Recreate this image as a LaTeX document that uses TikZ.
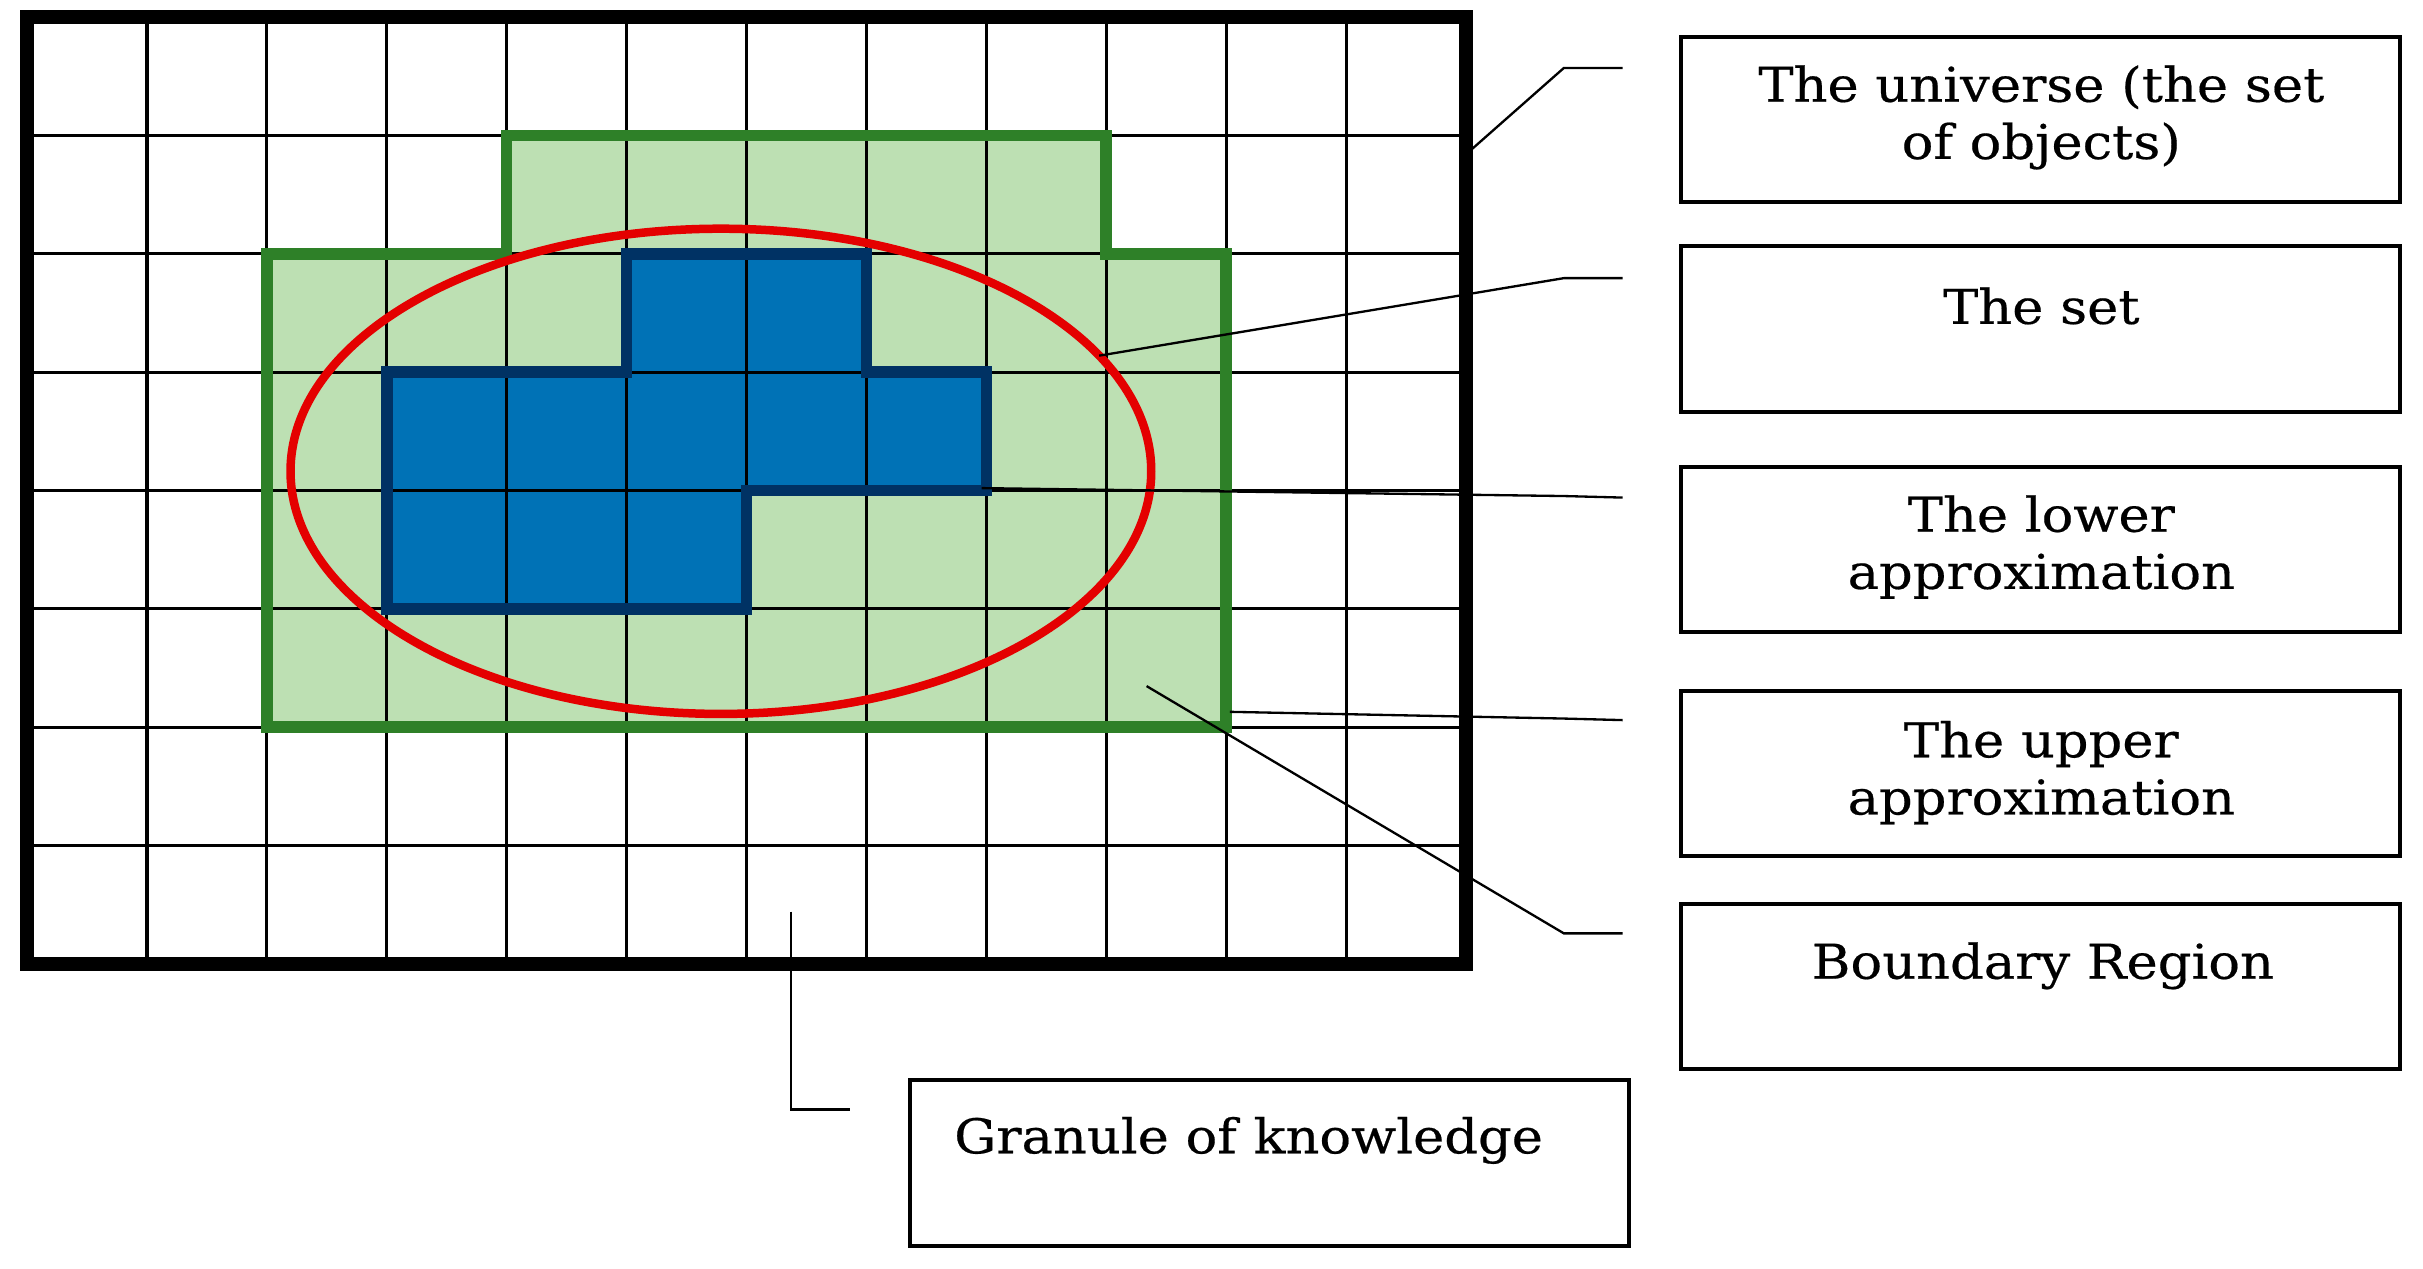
\documentclass[tikz,border=0pt]{standalone}
\usepackage{fontspec}
\usetikzlibrary{shapes.geometric}
\newfontfamily\lblfont[FakeStretch=1.1,FakeBold=0.4]{DejaVu Serif}
\definecolor{upfill}{RGB}{189,224,179}
\definecolor{upline}{RGB}{46,128,40}
\definecolor{lowfill}{RGB}{0,114,182}
\definecolor{lowline}{RGB}{0,50,100}
\definecolor{setred}{RGB}{228,0,0}
\begin{document}
\begin{tikzpicture}[x=1pt,y=-1pt,
  gridline/.style={black,line width=2pt},
  frame/.style={black,line width=8.5pt,line join=miter},
  upper/.style={upline,line width=7.5pt,line join=miter},
  lower/.style={lowline,line width=7.5pt,line join=miter},
  setellipse/.style={ellipse,draw=setred,line width=5.5pt,minimum width=557pt,minimum height=314pt,inner sep=0pt,outer sep=0pt},
  conn/.style={black,line width=1.5pt},
  lblbox/.style={draw=black,line width=2.6pt,minimum width=465pt,minimum height=107pt,inner sep=0pt},
  lbltext/.style={font=\lblfont\fontsize{31}{37}\selectfont,align=center,inner sep=0pt}]
\useasboundingbox (0,0) rectangle (1568,821);
\fill[white] (0,0) rectangle (1568,821);
% grid in cell units
\begin{scope}[shift={(17.5,11)},x=77.6pt,y=-76.6pt]
  \fill[upfill] (4,1) -- (9,1) -- (9,2) -- (10,2) -- (10,6) -- (2,6) -- (2,2) -- (4,2) -- cycle;
  \fill[lowfill] (5,2) -- (7,2) -- (7,3) -- (8,3) -- (8,4) -- (6,4) -- (6,5) -- (3,5) -- (3,3) -- (5,3) -- cycle;
  \foreach \i in {1,...,11} \draw[gridline] (\i,0) -- (\i,8);
  \foreach \j in {1,...,7} \draw[gridline] (0,\j) -- (12,\j);
  \draw[upper] (4,1) -- (9,1) -- (9,2) -- (10,2) -- (10,6) -- (2,6) -- (2,2) -- (4,2) -- cycle;
  \draw[lower] (5,2) -- (7,2) -- (7,3) -- (8,3) -- (8,4) -- (6,4) -- (6,5) -- (3,5) -- (3,3) -- (5,3) -- cycle;
  \draw[frame] (0,0) rectangle (12,8);
  \coordinate (uStart) at (12,1.16);
  \coordinate (lStart) at (7.96,3.98);
  \coordinate (upStart) at (10.03,5.87);
\end{scope}
\node[setellipse] (setE) at (466.5,305) {};
% label boxes
\node[lblbox] (b1) at (1320.5,77.5) {};
\node[lblbox] (b2) at (1320.5,213) {};
\node[lblbox] (b3) at (1320.5,355.5) {};
\node[lblbox] (b4) at (1320.5,500.5) {};
\node[lblbox] (b5) at (1320.5,638.5) {};
\node[lblbox] (b6) at (821.5,752.5) {};
\node[lbltext] (t1) at (1321,76) {The universe (the set\\of objects)};
\node[lbltext] (t2) at (1321,198) {The set};
\node[lbltext] (t3) at (1321,354) {The lower\\approximation};
\node[lbltext] (t4) at (1321,500) {The upper\\approximation};
\node[lbltext] (t5) at (1322,625) {Boundary Region};
\node[lbltext] (t6) at (808,738) {Granule of knowledge};
% connector points
\coordinate (uKink) at (1012,44);   \coordinate (uEnd) at (1050,44);
\coordinate (sKink) at (1012,180);  \coordinate (sEnd) at (1050,180);
\coordinate (lKink) at (1012,321);  \coordinate (lEnd) at (1050,322);
\coordinate (upKink) at (1012,465); \coordinate (upEnd) at (1050,466);
\coordinate (bStart) at (742,444);
\coordinate (bKink) at (1012,604);  \coordinate (bEnd) at (1050,604);
\coordinate (gStart) at (512,590);
\coordinate (gKink) at (512,718);   \coordinate (gEnd) at (550,718);
\draw[conn] (uStart) -- (uKink) -- (uEnd);
\draw[conn] (setE.17) -- (sKink) -- (sEnd);
\draw[conn] (lStart) -- (lKink) -- (lEnd);
\draw[conn] (upStart) -- (upKink) -- (upEnd);
\draw[conn] (bStart) -- (bKink) -- (bEnd);
\draw[conn] (gStart) -- (gKink) -- (gEnd);
\end{tikzpicture}
\end{document}
